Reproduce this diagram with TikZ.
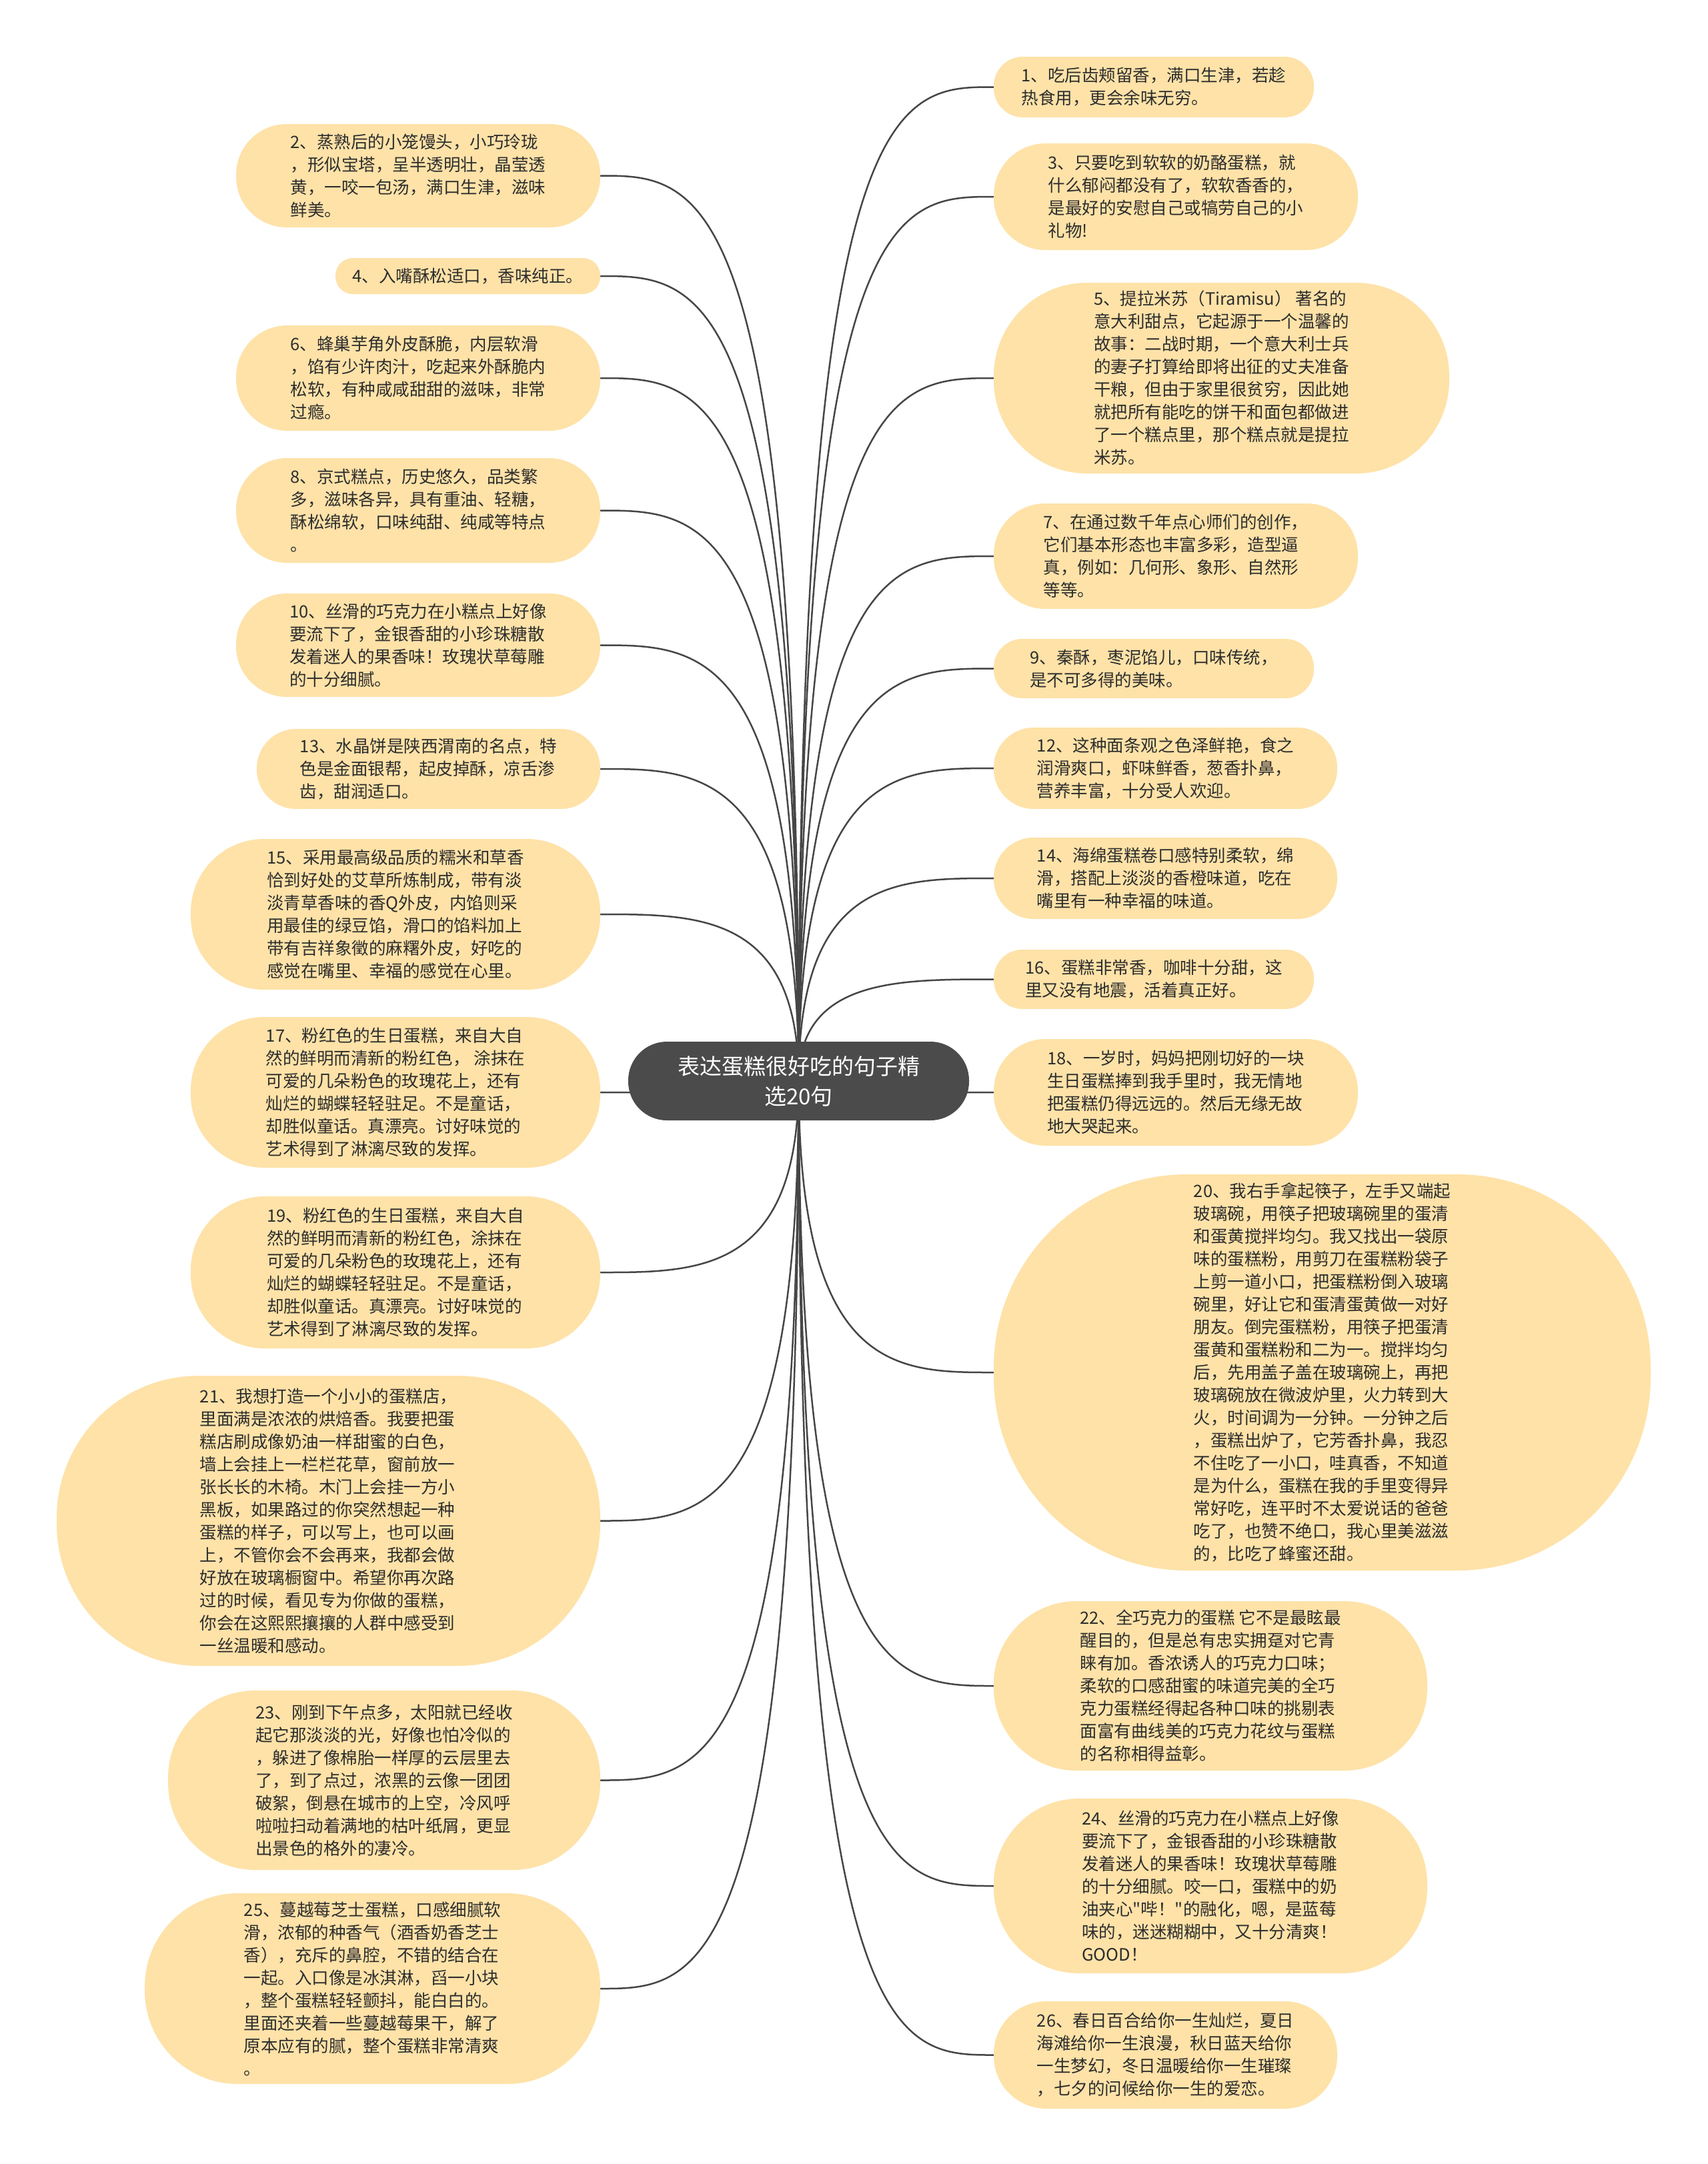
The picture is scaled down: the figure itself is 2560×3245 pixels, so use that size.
\documentclass[tikz,border=0pt]{standalone}
\usepackage{fontspec}
\setmainfont{Noto Sans CJK SC}
\newfontfamily\plainq{Noto Sans CJK SC}
\usetikzlibrary{calc,backgrounds}
\definecolor{bubfill}{RGB}{254,226,168}
\definecolor{txt}{RGB}{45,45,45}
\definecolor{rootfill}{RGB}{75,75,75}
\definecolor{conncol}{RGB}{70,70,70}
\tikzset{
 bub/.style={fill=bubfill, draw=none, text=txt, align=left, inner sep=4pt, font=\fontsize{25.5}{34}\selectfont},
 rootbox/.style={fill=rootfill, text=white, align=center, inner sep=4pt, font=\fontsize{33}{45}\selectfont, rounded corners=58pt, minimum width=511pt, minimum height=118pt},
 conn/.style={draw=conncol, line width=2.5pt},
}
\newcommand\bub[7]{\node[bub, minimum width=#4pt, minimum height=#5pt, rounded corners=#6pt] (#1) at (#2,#3) {#7};}
\newcommand\lnk[2]{\draw[conn] (root.center) .. controls (root.center |- #1.#2) and ($(root.center |- #1.#2)!0.5!(#1.#2)$) .. (#1.#2);}
\begin{document}
\begin{tikzpicture}[x=1pt,y=-1pt]
\useasboundingbox (0,0) rectangle (2560,3245);
% root
\node[rootbox] (root) at (1197.5,1621) {表达蛋糕很好吃的句子精\\选20句};
% left column
\bub{n2}{627}{263.5}{546}{155}{76}{2、蒸熟后的小笼馒头，小巧玲珑\\，形似宝塔，呈半透明壮，晶莹透\\黄，一咬一包汤，满口生津，滋味\\鲜美。}
\bub{n4}{701.5}{414}{397}{54}{26}{4、入嘴酥松适口，香味纯正。}
\bub{n6}{627}{567}{546}{158}{77}{6、蜂巢芋角外皮酥脆，内层软滑\\，馅有少许肉汁，吃起来外酥脆内\\松软，有种咸咸甜甜的滋味，非常\\过瘾。}
\bub{n8}{627}{765.5}{546}{157}{77}{8、京式糕点，历史悠久，品类繁\\多，滋味各异，具有重油、轻糖，\\酥松绵软，口味纯甜、纯咸等特点\\。}
\bub{n10}{627}{967.5}{546}{155}{76}{10、丝滑的巧克力在小糕点上好像\\要流下了，金银香甜的小珍珠糖散\\发着迷人的果香味！玫瑰状草莓雕\\的十分细腻。}
\bub{n13}{642.5}{1153}{515}{120}{59}{13、水晶饼是陕西渭南的名点，特\\色是金面银帮，起皮掉酥，凉舌渗\\齿，甜润适口。}
\bub{n15}{593}{1371}{614}{226}{110}{15、采用最高级品质的糯米和草香\\恰到好处的艾草所炼制成，带有淡\\淡青草香味的香Q外皮，内馅则采\\用最佳的绿豆馅，滑口的馅料加上\\带有吉祥象徵的麻糬外皮，好吃的\\感觉在嘴里、幸福的感觉在心里。}
\bub{n17}{593}{1638}{614}{226}{110}{17、粉红色的生日蛋糕，来自大自\\然的鲜明而清新的粉红色， 涂抹在\\可爱的几朵粉色的玫瑰花上，还有\\灿烂的蝴蝶轻轻驻足。不是童话，\\却胜似童话。真漂亮。讨好味觉的\\艺术得到了淋漓尽致的发挥。}
\bub{n19}{593}{1908}{614}{228}{111}{19、粉红色的生日蛋糕，来自大自\\然的鲜明而清新的粉红色，涂抹在\\可爱的几朵粉色的玫瑰花上，还有\\灿烂的蝴蝶轻轻驻足。不是童话，\\却胜似童话。真漂亮。讨好味觉的\\艺术得到了淋漓尽致的发挥。}
\bub{n21}{492.5}{2280.5}{815}{435}{213}{21、我想打造一个小小的蛋糕店，\\里面满是浓浓的烘焙香。我要把蛋\\糕店刷成像奶油一样甜蜜的白色，\\墙上会挂上一栏栏花草，窗前放一\\张长长的木椅。木门上会挂一方小\\黑板，如果路过的你突然想起一种\\蛋糕的样子，可以写上，也可以画\\上，不管你会不会再来，我都会做\\好放在玻璃橱窗中。希望你再次路\\过的时候，看见专为你做的蛋糕，\\你会在这熙熙攘攘的人群中感受到\\一丝温暖和感动。}
\bub{n23}{576}{2669.5}{648}{269}{131}{23、刚到下午点多，太阳就已经收\\起它那淡淡的光，好像也怕冷似的\\，躲进了像棉胎一样厚的云层里去\\了，到了点过，浓黑的云像一团团\\破絮，倒悬在城市的上空，冷风呼\\啦啦扫动着满地的枯叶纸屑，更显\\出景色的格外的凄冷。}
\bub{n25}{558.5}{2982}{683}{286}{140}{25、蔓越莓芝士蛋糕，口感细腻软\\滑，浓郁的种香气（酒香奶香芝士\\香），充斥的鼻腔，不错的结合在\\一起。入口像是冰淇淋，舀一小块\\，整个蛋糕轻轻颤抖，能白白的。\\里面还夹着一些蔓越莓果干，解了\\原本应有的腻，整个蛋糕非常清爽\\。}
% right column
\bub{n1}{1730}{130.5}{480}{91}{44}{1、吃后齿颊留香，满口生津，若趁\\热食用，更会余味无穷。}
\bub{n3}{1763}{295}{546}{160}{78}{3、只要吃到软软的奶酪蛋糕，就\\什么郁闷都没有了，软软香香的，\\是最好的安慰自己或犒劳自己的小\\礼物!}
\bub{n5}{1831.5}{567}{683}{286}{140}{5、提拉米苏（Tiramisu） 著名的\\意大利甜点，它起源于一个温馨的\\故事：二战时期，一个意大利士兵\\的妻子打算给即将出征的丈夫准备\\干粮，但由于家里很贫穷，因此她\\就把所有能吃的饼干和面包都做进\\了一个糕点里，那个糕点就是提拉\\米苏。}
\bub{n7}{1763}{834}{546}{158}{77}{7、在通过数千年点心师们的创作，\\它们基本形态也丰富多彩，造型逼\\真，例如：几何形、象形、自然形\\等等。}
\bub{n9}{1730}{1002.5}{480}{89}{43}{9、秦酥，枣泥馅儿，口味传统，\\是不可多得的美味。}
\bub{n12}{1747.5}{1152}{515}{122}{60}{12、这种面条观之色泽鲜艳，食之\\润滑爽口，虾味鲜香，葱香扑鼻，\\营养丰富，十分受人欢迎。}
\bub{n14}{1747.5}{1317}{515}{122}{60}{14、海绵蛋糕卷口感特别柔软，绵\\滑，搭配上淡淡的香橙味道，吃在\\嘴里有一种幸福的味道。}
\bub{n16}{1730}{1468.5}{480}{89}{43}{16、蛋糕非常香，咖啡十分甜，这\\里又没有地震，活着真正好。}
\bub{n18}{1763}{1638}{546}{160}{78}{18、一岁时，妈妈把刚切好的一块\\生日蛋糕捧到我手里时，我无情地\\把蛋糕仍得远远的。然后无缘无故\\地大哭起来。}
\bub{n20}{1982.5}{2058}{985}{594}{290}{20、我右手拿起筷子，左手又端起\\玻璃碗，用筷子把玻璃碗里的蛋清\\和蛋黄搅拌均匀。我又找出一袋原\\味的蛋糕粉，用剪刀在蛋糕粉袋子\\上剪一道小口，把蛋糕粉倒入玻璃\\碗里，好让它和蛋清蛋黄做一对好\\朋友。倒完蛋糕粉，用筷子把蛋清\\蛋黄和蛋糕粉和二为一。搅拌均匀\\后，先用盖子盖在玻璃碗上，再把\\玻璃碗放在微波炉里，火力转到大\\火，时间调为一分钟。一分钟之后\\，蛋糕出炉了，它芳香扑鼻，我忍\\不住吃了一小口，哇真香，不知道\\是为什么，蛋糕在我的手里变得异\\常好吃，连平时不太爱说话的爸爸\\吃了，也赞不绝口，我心里美滋滋\\的，比吃了蜂蜜还甜。}
\bub{n22}{1815}{2528}{650}{254}{124}{22、全巧克力的蛋糕 它不是最眩最\\醒目的，但是总有忠实拥趸对它青\\睐有加。香浓诱人的巧克力口味；\\柔软的口感甜蜜的味道完美的全巧\\克力蛋糕经得起各种口味的挑剔表\\面富有曲线美的巧克力花纹与蛋糕\\的名称相得益彰。}
\bub{n24}{1815}{2828}{650}{262}{128}{24、丝滑的巧克力在小糕点上好像\\要流下了，金银香甜的小珍珠糖散\\发着迷人的果香味！玫瑰状草莓雕\\的十分细腻。咬一口，蛋糕中的奶\\油夹心{\plainq"}哔！{\plainq"}的融化，嗯，是蓝莓\\味的，迷迷糊糊中，又十分清爽！\\GOOD！}
\bub{n26}{1747.5}{3081.5}{515}{161}{79}{26、春日百合给你一生灿烂，夏日\\海滩给你一生浪漫，秋日蓝天给你\\一生梦幻，冬日温暖给你一生璀璨\\，七夕的问候给你一生的爱恋。}
\begin{pgfonlayer}{background}
\fill[white] (0,0) rectangle (2560,3245);
\lnk{n2}{east}\lnk{n4}{east}\lnk{n6}{east}\lnk{n8}{east}\lnk{n10}{east}\lnk{n13}{east}
\lnk{n15}{east}\lnk{n17}{east}\lnk{n19}{east}\lnk{n21}{east}\lnk{n23}{east}\lnk{n25}{east}
\lnk{n1}{west}\lnk{n3}{west}\lnk{n5}{west}\lnk{n7}{west}\lnk{n9}{west}\lnk{n12}{west}\lnk{n14}{west}
\lnk{n16}{west}\lnk{n18}{west}\lnk{n20}{west}\lnk{n22}{west}\lnk{n24}{west}\lnk{n26}{west}
\end{pgfonlayer}
\end{tikzpicture}
\end{document}
